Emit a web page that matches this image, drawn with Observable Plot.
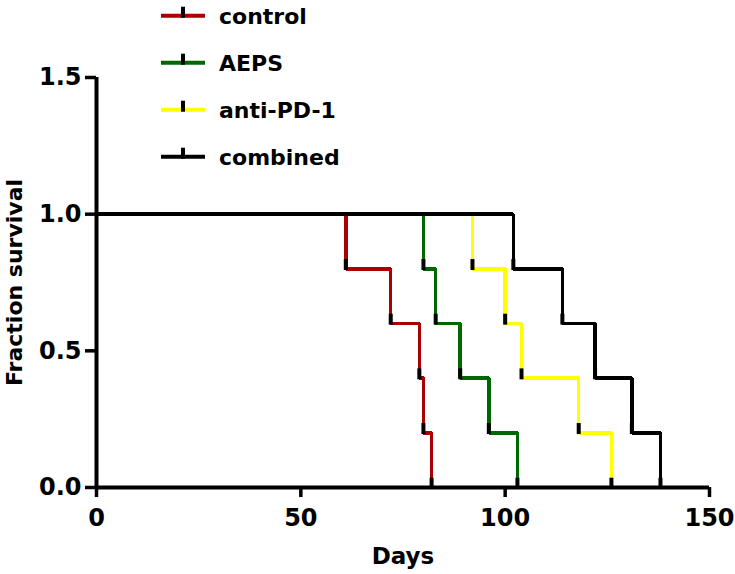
<!DOCTYPE html>
<html>
<head>
<meta charset="utf-8">
<script src="https://cdn.jsdelivr.net/npm/d3@7"></script>
<script src="https://cdn.jsdelivr.net/npm/@observablehq/plot@0.6"></script>
<style>
  html, body { margin: 0; padding: 0; background: #fff; }
  #wrap { position: relative; width: 735px; height: 574px; }
  #legend { position: absolute; left: 0; top: 0; }
</style>
</head>
<body>
<div id="wrap"><div id="chart"></div><svg id="legend" width="735" height="180"></svg></div>
<script>
// Data
const groups = ["control", "AEPS", "anti-PD-1", "combined"];
const colors = ["#aa0000", "#006600", "#ffff00", "#000000"];
// days at which each death occurs (5 subjects per group)
const controlDays = [61, 72, 79, 80, 82];
const aepsDays = [80, 83, 89, 96, 103];
const antiDays = [92, 100, 104, 118, 126];
const combinedDays = [102, 114, 122, 131, 138];
const survivalLevels = [0.8, 0.6, 0.4, 0.2, 0.0];
const xTicks = [0, 50, 100, 150];
const yTicks = [0, 0.5, 1.0, 1.5];

const daysByGroup = [controlDays, aepsDays, antiDays, combinedDays];

const curve = [];
const events = [];
groups.forEach((g, i) => {
  curve.push({group: g, day: 0, surv: 1});
  daysByGroup[i].forEach((d, k) => {
    curve.push({group: g, day: d, surv: survivalLevels[k]});
    events.push({group: g, day: d, surv: survivalLevels[k]});
  });
});

const font = "DejaVu Sans";

const chart = Plot.plot({
  width: 735,
  height: 574,
  marginLeft: 96,
  marginRight: 26,
  marginTop: 77,
  marginBottom: 87,
  style: {fontFamily: font, fontWeight: "bold", background: "white", color: "black"},
  x: {domain: [0, 150]},
  y: {domain: [0, 1.5]},
  color: {domain: groups, range: colors},
  marks: [
    Plot.line(curve, {x: "day", y: "surv", z: "group", stroke: "group", curve: "step-after",
      strokeWidth: 3.5, strokeLinejoin: "miter", strokeLinecap: "butt", shapeRendering: "crispEdges"}),
    Plot.ruleX(events, {x: "day", y1: d => d.surv - 0.006, y2: d => d.surv + 0.034,
      stroke: "black", strokeWidth: 4}),
    Plot.ruleX([0], {stroke: "black", strokeWidth: 4}),
    Plot.ruleY([0], {stroke: "black", strokeWidth: 4}),
    Plot.axisY({ticks: yTicks, tickFormat: d => d.toFixed(1), tickSize: 11, tickPadding: 4,
      fontSize: 24, strokeWidth: 3.5, label: null, fontWeight: "bold"}),
    Plot.axisX({ticks: xTicks, tickFormat: d => String(d), tickSize: 10, tickPadding: 11,
      fontSize: 24, strokeWidth: 3.5, label: null, fontWeight: "bold"}),
    Plot.text(["Fraction survival"], {frameAnchor: "left", rotate: -90, dx: -82,
      fontSize: 22, fontWeight: "bold", textAnchor: "middle", lineAnchor: "middle"}),
    Plot.text(["Days"], {frameAnchor: "bottom", dy: 69, fontSize: 23, fontWeight: "bold",
      textAnchor: "middle", lineAnchor: "middle"})
  ]
});
document.getElementById("chart").appendChild(chart);

// Legend overlay
const leg = d3.select("#legend");
groups.forEach((g, i) => {
  const y = 15.7 + i * 47;
  const item = leg.append("g");
  item.append("line").attr("x1", 161).attr("x2", 205).attr("y1", y).attr("y2", y)
    .attr("stroke", colors[i]).attr("stroke-width", 4);
  item.append("line").attr("x1", 183).attr("x2", 183).attr("y1", y - 9).attr("y2", y + 2)
    .attr("stroke", "black").attr("stroke-width", 4);
  item.append("text").attr("x", 219).attr("y", y).attr("dy", "0.36em")
    .attr("font-family", font).attr("font-weight", "bold").attr("font-size", 22)
    .attr("fill", "black").text(g);
});
</script>
</body>
</html>
